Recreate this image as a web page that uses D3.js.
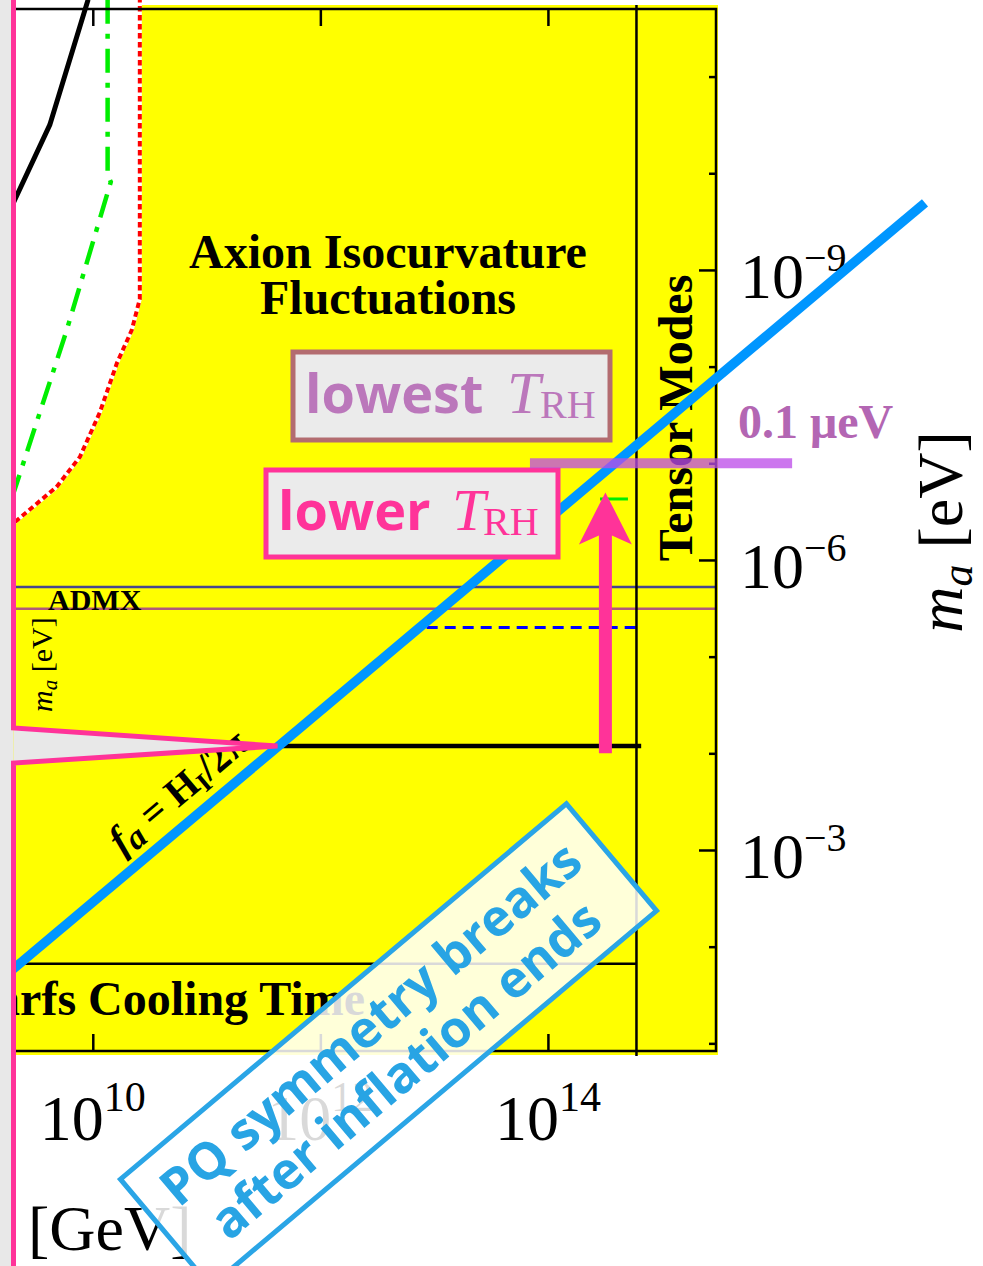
<!DOCTYPE html>
<html>
<head>
<meta charset="utf-8">
<script src="https://cdn.jsdelivr.net/npm/d3@7"></script>
<style>
  body { margin: 0; background: #fff; }
  svg { display: block; }
</style>
</head>
<body>
<script>
// ---- axis extents and ticks -------------------------------------------
const hDomain = [1e9, 3e15];          // H_I [GeV] (horizontal)
const mDomain = [2e-12, 0.12];        // m_a [eV] (vertical, grows downward)
const hTicks = [1e10, 1e12, 1e14];
const hTickExp = ["10", "12", "14"];
const mMajorTicks = [1e-9, 1e-6, 1e-3];
const mMajorExp = ["\u22129", "\u22126", "\u22123"];
const mMinorTicks = [1e-11, 1e-10, 1e-8, 1e-7, 1e-5, 1e-4, 1e-2, 1e-1];

// ---- isocurvature bound (red dotted) ----------------------------------
const isoH = [2.59e10, 2.59e10, 2.2e10, 1.63e10, 1.15e10, 7.7e9, 4.8e9, 2.15e9, 1.3e9];
const isoM = [1.5e-12, 2.0e-9, 4.2e-9, 9.2e-9, 3.0e-8, 8.6e-8, 1.76e-7, 3.9e-7, 6.2e-7];

// ---- black solid bound -------------------------------------------------
const blkH = [9.1e9, 4.19e9, 2.06e9, 1.29e9];
const blkM = [1.6e-12, 3.16e-11, 1.89e-10, 6.1e-10];

// ---- green dash-dot bound ---------------------------------------------
const grnH = [1.35e10, 1.35e10, 1.44e10, 5.9e9, 2.15e9, 1.29e9];
const grnM = [1.6e-12, 1.04e-10, 1.23e-10, 4.2e-9, 1.6e-7, 9.9e-7];

// ---- f_a = H_I / 2pi ---------------------------------------------------
const faH = [1.5e9, 2.06e17];
const faM = [2.26e-2, 2.02e-10];

// ---- horizontal / vertical limits -------------------------------------
const admxM = [1.9e-6, 3.2e-6];
const admxColors = ["#46468c", "#b05a78"];
const dashedH = [8.6e12, 6.0e14], dashedM = 5e-6;
const blackH = [4.2e11, 6.6e14], blackM = 8.4e-5;
const greenSegH = [2.87e14, 5.05e14], greenSegM = 2.34e-7;
const wdM = 1.5e-2;                 // white dwarf cooling
const tensorH = 6.0e14;             // tensor modes
const microH = [6.95e13, 1.4e16], microM = 1e-7;   // 0.1 ueV
const arrowH = 3.2e14, arrowM = [1e-4, 2e-7];

const W = 983, Hh = 1266;
const serif = "'Liberation Serif','Times New Roman',serif";
const sans = "'Open Sans','Noto Sans',sans-serif";
const pink = "#ff3399";

const svg = d3.select("body").append("svg").attr("width", W).attr("height", Hh);

const x = d3.scaleLog().domain(hDomain).range([-21, 716]);
const y = d3.scaleLog().domain(mDomain).range([9, 1051]);
const [x0, x1] = x.range(), [y0, y1] = y.range();

svg.append("defs").append("clipPath").attr("id", "plot")
  .append("rect").attr("x", x0).attr("y", 0).attr("width", x1 - x0 + 2).attr("height", y1 + 2);

const pts = (hs, ms) => hs.map((h, i) => [x(h), y(ms[i])]);
const line = d3.line();

// yellow excluded region
svg.append("rect").attr("x", x0).attr("y", y0 - 4).attr("width", x1 - x0 + 2).attr("height", y1 - y0 + 8)
  .attr("fill", "#ffff00");

const plot = svg.append("g").attr("clip-path", "url(#plot)");

// allowed (white) region above/left of the isocurvature curve
const isoPts = pts(isoH, isoM);
const whitePoly = [[x0 - 5, 0]].concat([[isoPts[0][0], 0]], isoPts, [[x0 - 5, isoPts[isoPts.length - 1][1]]]);
plot.append("path").attr("d", line(whitePoly) + "Z").attr("fill", "#fff");

plot.append("path").attr("d", line(pts(blkH, blkM))).attr("fill", "none")
  .attr("stroke", "#000").attr("stroke-width", 5);
plot.append("path").attr("d", line(pts(grnH, grnM))).attr("fill", "none")
  .attr("stroke", "#00ee00").attr("stroke-width", 4.5).attr("stroke-dasharray", "24,10,5,10");
plot.append("path").attr("d", line(isoPts)).attr("fill", "none")
  .attr("stroke", "#fff").attr("stroke-width", 4);
plot.append("path").attr("d", line(isoPts)).attr("fill", "none")
  .attr("stroke", "#ff0000").attr("stroke-width", 4).attr("stroke-dasharray", "5.5,3.5");

// ADMX band edges
admxM.forEach((m, i) => {
  plot.append("line").attr("x1", x0).attr("x2", x1).attr("y1", y(m)).attr("y2", y(m))
    .attr("stroke", admxColors[i]).attr("stroke-width", 2.5);
});
plot.append("line").attr("x1", x(dashedH[0])).attr("x2", x(dashedH[1]))
  .attr("y1", y(dashedM)).attr("y2", y(dashedM))
  .attr("stroke", "#0000ff").attr("stroke-width", 3).attr("stroke-dasharray", "11,7");
plot.append("line").attr("x1", x0).attr("x2", x(tensorH))
  .attr("y1", y(wdM)).attr("y2", y(wdM)).attr("stroke", "#000").attr("stroke-width", 2.5);
plot.append("line").attr("x1", x(blackH[0])).attr("x2", x(blackH[1]))
  .attr("y1", y(blackM)).attr("y2", y(blackM)).attr("stroke", "#000").attr("stroke-width", 4.5);
plot.append("line").attr("x1", x(greenSegH[0])).attr("x2", x(greenSegH[1]))
  .attr("y1", y(greenSegM)).attr("y2", y(greenSegM)).attr("stroke", "#00ee00").attr("stroke-width", 3);
svg.append("line").attr("x1", x(tensorH)).attr("x2", x(tensorH)).attr("y1", y0 - 4).attr("y2", y1 + 5)
  .attr("stroke", "#000").attr("stroke-width", 2.5);

// region labels
const isoLbl = svg.append("text").attr("font-family", serif).attr("font-weight", "bold")
  .attr("font-size", 48).attr("text-anchor", "middle");
isoLbl.append("tspan").attr("x", 388).attr("y", 268).text("Axion Isocurvature");
isoLbl.append("tspan").attr("x", 388).attr("y", 314).text("Fluctuations");

svg.append("text").attr("x", 48).attr("y", 610).attr("font-family", serif).attr("font-weight", "bold")
  .attr("font-size", 30).text("ADMX");

const smallM = svg.append("text").attr("transform", "translate(52,712) rotate(-90)")
  .attr("font-family", serif).attr("font-size", 30);
smallM.append("tspan").attr("font-style", "italic").text("m");
smallM.append("tspan").attr("font-style", "italic").attr("font-size", 21).attr("dy", 5).text("a");
smallM.append("tspan").attr("dy", -5).text(" [eV]");

svg.append("text").attr("transform", "translate(692,418) rotate(-90)")
  .attr("font-family", serif).attr("font-weight", "bold").attr("font-size", 48)
  .attr("text-anchor", "middle").text("Tensor Modes");

svg.append("text").attr("x", 365).attr("y", 1015).attr("font-family", serif).attr("font-weight", "bold")
  .attr("font-size", 48).attr("text-anchor", "end").text("White Dwarfs Cooling Time");

// frame and ticks
svg.append("rect").attr("x", x0).attr("y", y0).attr("width", x1 - x0).attr("height", y1 - y0)
  .attr("fill", "none").attr("stroke", "#000").attr("stroke-width", 2.5);

function tickStyle(g) {
  g.select(".domain").remove();
  g.selectAll(".tick line").attr("stroke", "#000").attr("stroke-width", 2.5);
  g.selectAll(".tick text").remove();
}
svg.append("g").attr("transform", `translate(0,${y0})`)
  .call(d3.axisBottom(x).tickValues(hTicks).tickSize(17).tickFormat("")).call(tickStyle);
svg.append("g").attr("transform", `translate(0,${y1})`)
  .call(d3.axisTop(x).tickValues(hTicks).tickSize(17).tickFormat("")).call(tickStyle);
svg.append("g").attr("transform", `translate(${x1},0)`)
  .call(d3.axisLeft(y).tickValues(mMajorTicks).tickSize(17).tickFormat("")).call(tickStyle);
svg.append("g").attr("transform", `translate(${x1},0)`)
  .call(d3.axisLeft(y).tickValues(mMinorTicks).tickSize(7).tickFormat("")).call(tickStyle);

// tick labels
hTicks.forEach((t, i) => {
  const tx = svg.append("text").attr("x", x(t)).attr("y", 1140).attr("text-anchor", "middle")
    .attr("font-family", serif).attr("font-size", 64);
  tx.append("tspan").text("10");
  tx.append("tspan").attr("font-size", 42).attr("dy", -29).text(hTickExp[i]);
});
mMajorTicks.forEach((t, i) => {
  const tx = svg.append("text").attr("x", 740).attr("y", y(t) + 28)
    .attr("font-family", serif).attr("font-size", 64);
  tx.append("tspan").text("10");
  tx.append("tspan").attr("font-size", 40).attr("dy", -27).text(mMajorExp[i]);
});

svg.append("text").attr("x", 28).attr("y", 1250).attr("font-family", serif).attr("font-size", 64).text("[GeV]");

const mLbl = svg.append("text").attr("transform", "translate(962,532) rotate(-90)")
  .attr("font-family", serif).attr("font-size", 64).attr("text-anchor", "middle");
mLbl.append("tspan").attr("font-style", "italic").text("m");
mLbl.append("tspan").attr("font-style", "italic").attr("font-size", 44).attr("dy", 10).text("a");
mLbl.append("tspan").attr("dy", -10).text(" [eV]");

// f_a = H_I / 2pi label along the line
const faPts = pts(faH, faM);
const ang = Math.atan2(faPts[1][1] - faPts[0][1], faPts[1][0] - faPts[0][0]) * 180 / Math.PI;
const lblH = 8.3e10;
const lt = (Math.log10(lblH) - Math.log10(faH[0])) / (Math.log10(faH[1]) - Math.log10(faH[0]));
const lblM = Math.pow(10, Math.log10(faM[0]) + lt * (Math.log10(faM[1]) - Math.log10(faM[0])));
const faLbl = svg.append("text")
  .attr("transform", `translate(${x(lblH)},${y(lblM)}) rotate(${ang})`)
  .attr("y", -17).attr("text-anchor", "middle")
  .attr("font-family", serif).attr("font-weight", "bold").attr("font-size", 40);
faLbl.append("tspan").attr("font-style", "italic").text("f");
faLbl.append("tspan").attr("font-style", "italic").attr("font-size", 34).attr("dy", 6).text("a");
faLbl.append("tspan").attr("dy", -6).text(" = H");
faLbl.append("tspan").attr("font-size", 27).attr("dy", 6).text("I");
faLbl.append("tspan").attr("dy", -6).text("/2\u03c0");

// f_a = H_I / 2pi line
svg.append("path").attr("d", line(faPts)).attr("stroke", "#0096ff").attr("stroke-width", 9.5)
  .attr("fill", "none");

// reheating-temperature boxes
function trhBox(bx, by, bw, bh, stroke, color, word, wordX, tX, rhX, base) {
  svg.append("rect").attr("x", bx).attr("y", by).attr("width", bw).attr("height", bh)
    .attr("fill", "#ebebeb").attr("stroke", stroke).attr("stroke-width", 5);
  const t = svg.append("text").attr("y", base).attr("fill", color);
  t.append("tspan").attr("x", wordX).attr("font-family", sans).attr("font-weight", "bold")
    .attr("font-size", 54).text(word);
  t.append("tspan").attr("x", tX).attr("font-family", serif).attr("font-style", "italic")
    .attr("font-size", 60).text("T");
  t.append("tspan").attr("x", rhX).attr("dy", 5).attr("font-family", serif)
    .attr("font-size", 40).text("RH");
}
trhBox(293, 352, 317, 88, "#b36c70", "#bb77bb", "lowest", 305, 507, 540, 413);
trhBox(266, 470, 292, 87, pink, pink, "lower", 278, 452, 483, 530);

// 0.1 ueV marker
svg.append("line").attr("x1", x(microH[0])).attr("x2", x(microH[1]))
  .attr("y1", y(microM)).attr("y2", y(microM))
  .attr("stroke", "rgba(188,75,233,0.76)").attr("stroke-width", 10);
svg.append("text").attr("x", 738).attr("y", 438).attr("font-family", serif).attr("font-weight", "bold")
  .attr("font-size", 48).attr("fill", "#b366b3").text("0.1 \u03bceV");

// arrow toward lower masses
const ax = x(arrowH), ayB = y(arrowM[0]), ayT = y(arrowM[1]);
const hw = 6.5, headW = 26.5, headL = 52, notch = 9;
svg.append("path").attr("fill", pink).attr("d", line([
  [ax, ayT], [ax + headW, ayT + headL], [ax + hw, ayT + headL - notch], [ax + hw, ayB],
  [ax - hw, ayB], [ax - hw, ayT + headL - notch], [ax - headW, ayT + headL]
]) + "Z");

// zoom callout frame
const tipX = x(blackH[0]), tipY = y(blackM);
svg.append("rect").attr("x", 0).attr("y", 0).attr("width", 13.5).attr("height", Hh).attr("fill", "#e8e8e8");
svg.append("path").attr("d", line([[13.5, 728], [tipX, tipY], [13.5, 763]])).attr("fill", "#e8e8e8");
svg.append("path").attr("d", line([[13.5, -5], [13.5, 728], [tipX, tipY], [13.5, 763], [13.5, Hh + 5]]))
  .attr("fill", "none").attr("stroke", pink).attr("stroke-width", 5).attr("stroke-linejoin", "miter");

// PQ symmetry note
const pq = svg.append("g").attr("transform", "translate(388.5,1045) rotate(-40.1)");
pq.append("rect").attr("x", -291.5).attr("y", -70).attr("width", 583).attr("height", 140)
  .attr("fill", "rgba(255,255,255,0.85)").attr("stroke", "#2aa5e6").attr("stroke-width", 5);
const pqT = pq.append("text").attr("text-anchor", "middle").attr("font-family", sans)
  .attr("font-weight", "bold").attr("font-size", 51).attr("fill", "#28a4e4");
pqT.append("tspan").attr("x", 0).attr("y", -10).text("PQ symmetry breaks");
pqT.append("tspan").attr("x", -3).attr("y", 48).text("after inflation ends");
</script>
</body>
</html>
